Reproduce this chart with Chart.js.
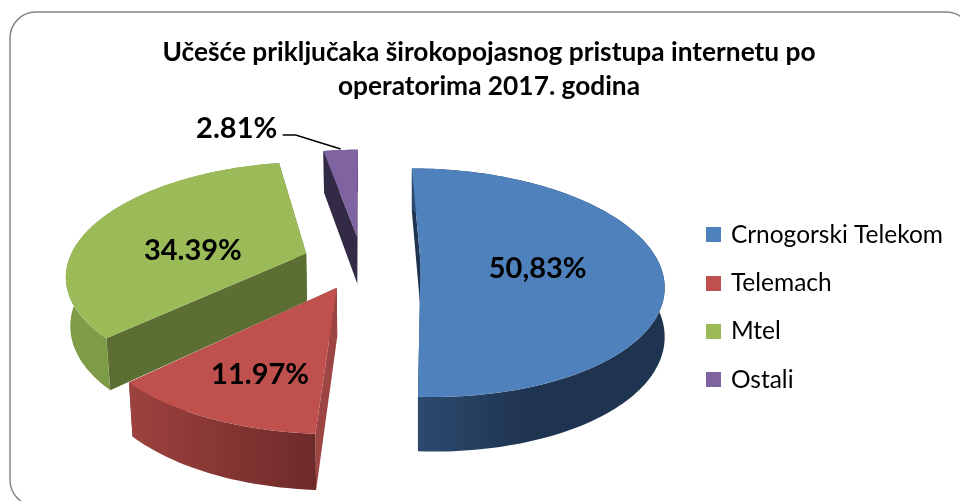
<!DOCTYPE html>
<html><head><meta charset="utf-8">
<style>html,body{margin:0;padding:0;background:#fff}canvas{display:block}</style>
<script src="https://cdn.jsdelivr.net/npm/chart.js@4"></script>
</head><body><canvas id="c" width="960" height="501"></canvas>
<script>
const categories = ["Crnogorski Telekom", "Telemach", "Mtel", "Ostali"];
const shares = [50.83, 11.97, 34.39, 2.81];
const valueLabels = ["50,83%", "11.97%", "34.39%", "2.81%"];
const titleLines = ["Učešće priključaka širokopojasnog pristupa internetu po", "operatorima 2017. godina"];
const topColors = ["#4f81bd", "#c0504d", "#9bbb59", "#8064a2"];

// Styling of the 3D look: camera, explosion and shading (no data here)
const cam = {cx:362, cy:262, rx:238, ry:110.5, p:0.175, depth:48};
const explode = [0.246, 0.245, 0.25, 0.236];
const drawOrder = [3, 0, 2, 1];
const labelPlace = [{r:0.49,dx:0,dy:5},{r:0.70,dx:8,dy:1},{r:0.49,dx:-8,dy:13},null];
const cutColors = ["#1f3450", "#9c4542", "#5d6e33", "#332a46"];
const rimShades = [
  {x0:418, x1:530, c0:"#2c4a6e", c1:"#1f3450"},
  {x0:133, x1:316, c0:"#9c413e", c1:"#6e2b29"},
  {x0:70,  x1:140, c0:"#7f9c47", c1:"#7d9a46"},
  {x0:322, x1:357, c0:"#332a46", c1:"#332a46"}
];

function proj(u, v, low){
  const w = 1 - cam.p * v;
  let x = cam.cx + cam.rx * u / w;
  let y = cam.cy + cam.ry * v / w;
  if (low){
    y += cam.depth / (1 - 0.12 * v);
    if (x < cam.cx) x = cam.cx + (x - cam.cx) * 0.985;
  }
  return [x, y];
}
function slicePoint(i, arc, ang, r, low){
  const mid = (arc.startAngle + arc.endAngle) / 2;
  const u = explode[i] * Math.cos(mid) + r * Math.cos(ang);
  const v = explode[i] * Math.sin(mid) + r * Math.sin(ang);
  return proj(u, v, low);
}
function poly(ctx, pts, fill){
  ctx.beginPath();
  pts.forEach((p, k) => k ? ctx.lineTo(p[0], p[1]) : ctx.moveTo(p[0], p[1]));
  ctx.closePath();
  ctx.fillStyle = fill;
  ctx.fill();
}
function swatch(color){
  const s = document.createElement("canvas");
  s.width = 15; s.height = 15;
  const c = s.getContext("2d");
  c.fillStyle = color;
  c.fillRect(0, 0, 15, 15);
  return s;
}
const pie3d = {
  id: "pie3d",
  beforeDraw(chart){
    const ctx = chart.ctx;
    ctx.save();
    ctx.fillStyle = "#fff";
    ctx.fillRect(0, 0, chart.width, chart.height);
    ctx.beginPath();
    ctx.roundRect(10, 12, 962, 494, 26);
    ctx.strokeStyle = "#868686";
    ctx.lineWidth = 1.5;
    ctx.stroke();
    ctx.restore();
  },
  beforeDatasetsDraw(chart){
    const ctx = chart.ctx, arcs = chart.getDatasetMeta(0).data;
    ctx.save();
    drawOrder.forEach(i => {
      const arc = arcs[i], a0 = arc.startAngle, a1 = arc.endAngle;
      const n = Math.max(8, Math.ceil((a1 - a0) * 40));
      const rimTop = [], rimLow = [];
      for (let k = 0; k <= n; k++){
        const a = a0 + (a1 - a0) * k / n;
        rimTop.push(slicePoint(i, arc, a, 1, false));
        rimLow.push(slicePoint(i, arc, a, 1, true));
      }
      const apexT = slicePoint(i, arc, a0, 0, false), apexL = slicePoint(i, arc, a0, 0, true);
      poly(ctx, [apexT, rimTop[0], rimLow[0], apexL], cutColors[i]);
      poly(ctx, [apexT, rimTop[n], rimLow[n], apexL], cutColors[i]);
      const s = rimShades[i];
      const g = ctx.createLinearGradient(s.x0, 0, s.x1, 0);
      g.addColorStop(0, s.c0); g.addColorStop(1, s.c1);
      poly(ctx, rimTop.concat(rimLow.slice().reverse()), g);
      poly(ctx, [apexT].concat(rimTop), topColors[i]);
    });
    ctx.restore();
    return false;
  },
  afterDraw(chart){
    const ctx = chart.ctx, arcs = chart.getDatasetMeta(0).data;
    ctx.save();
    ctx.font = "bold 29px Lato";
    ctx.fillStyle = "#000";
    ctx.textAlign = "center";
    ctx.textBaseline = "middle";
    arcs.forEach((arc, i) => {
      const mid = (arc.startAngle + arc.endAngle) / 2;
      const place = labelPlace[i];
      if (place){
        const p = slicePoint(i, arc, mid, place.r, false);
        ctx.fillText(valueLabels[i], p[0] + place.dx, p[1] + place.dy);
      } else {
        const e = slicePoint(i, arc, mid, 1, false);
        ctx.fillText(valueLabels[i], e[0] - 104, e[1] - 21);
        ctx.beginPath();
        ctx.moveTo(e[0] - 58, e[1] - 15);
        ctx.lineTo(e[0] - 45, e[1] - 15);
        ctx.lineTo(e[0], e[1] - 1);
        ctx.lineWidth = 1.5;
        ctx.strokeStyle = "#000";
        ctx.stroke();
      }
    });
    ctx.restore();
  }
};
new Chart(document.getElementById("c"), {
  type: "pie",
  data: { labels: categories, datasets: [{ data: shares, backgroundColor: topColors, borderWidth: 0 }] },
  plugins: [pie3d],
  options: {
    responsive: false,
    animation: false,
    layout: { padding: { left: 25, right: 7, top: 35, bottom: 0 } },
    plugins: {
      tooltip: { enabled: false },
      title: {
        display: true, text: titleLines, color: "#000",
        font: { family: "Lato", size: 26.3, weight: "bold", lineHeight: 1.3 },
        padding: { top: 0, bottom: 10 }
      },
      legend: {
        position: "right",
        fullSize: false,
        labels: { color: "#000", usePointStyle: true, pointStyleWidth: 10, boxHeight: 15, padding: 23.8,
          font: { family: "Lato", size: 24.5 },
          generateLabels(chart){
            const base = Chart.overrides.doughnut.plugins.legend.labels.generateLabels(chart);
            return base.map((item, i) => Object.assign(item, { pointStyle: swatch(topColors[i]) }));
          }
        }
      }
    }
  }
});
</script></body></html>
